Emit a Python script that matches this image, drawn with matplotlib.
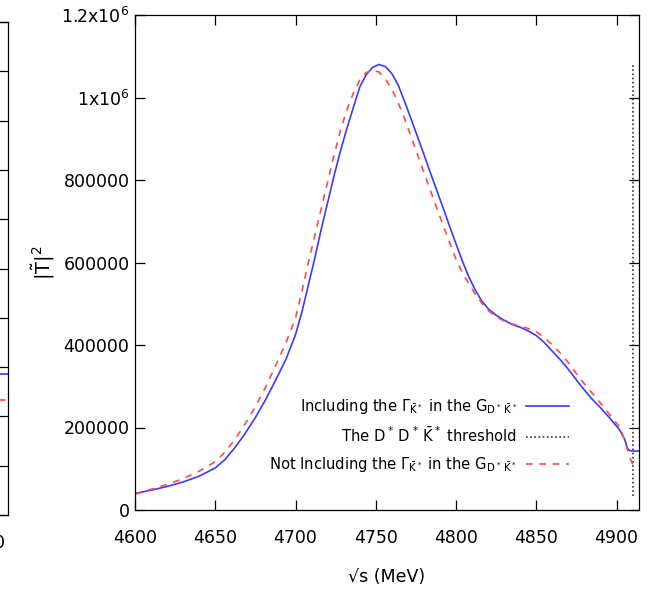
import numpy as np
import matplotlib
matplotlib.use('Agg')
import matplotlib.pyplot as plt

plt.rcParams['font.family'] = ['DejaVu Sans']
plt.rcParams['mathtext.fontset'] = 'custom'
plt.rcParams['mathtext.rm'] = 'DejaVu Sans'
plt.rcParams['mathtext.it'] = 'DejaVu Sans'
plt.rcParams['font.size'] = 12.5

# sqrt(s) in MeV, |T|^2
e_with = [4600, 4610, 4620, 4630, 4640, 4650, 4656, 4662, 4668, 4675, 4681, 4687, 4694,
	4700, 4704, 4708, 4712, 4716, 4720, 4724, 4728, 4732, 4736, 4740, 4744, 4748, 4752,
	4756, 4760, 4764, 4768, 4772, 4776, 4780, 4784, 4788, 4792, 4796, 4800, 4804, 4808,
	4812, 4816, 4820, 4825, 4830, 4835, 4840, 4845, 4850, 4855, 4860, 4865, 4870, 4877,
	4884, 4890, 4896, 4902, 4905, 4907, 4909, 4914]
t_with = [40000, 48000, 57000, 68000, 82000, 102000, 122000, 150000, 182000, 224000,
	265000, 310000, 365000, 425000, 480000, 545000, 610000, 680000, 745000, 810000,
	870000, 925000, 975000, 1025000, 1055000, 1073000, 1080000, 1075000, 1058000,
	1030000, 990000, 948000, 905000, 862000, 818000, 775000, 732000, 688000, 645000,
	603000, 565000, 533000, 507000, 488000, 472000, 460000, 450000, 443000, 434000,
	423000, 406000, 385000, 364000, 341000, 305000, 272000, 248000, 222000, 194000,
	172000, 148000, 143000, 143000]

e_without = [4600, 4610, 4620, 4630, 4640, 4650, 4656, 4662, 4668, 4675, 4681, 4687, 4694,
	4700, 4704, 4708, 4712, 4716, 4720, 4724, 4728, 4732, 4736, 4740, 4744, 4748, 4752,
	4756, 4760, 4764, 4768, 4772, 4776, 4780, 4784, 4788, 4792, 4796, 4800, 4804, 4808,
	4812, 4816, 4820, 4825, 4830, 4835, 4840, 4845, 4850, 4855, 4860, 4865, 4870, 4877,
	4884, 4890, 4896, 4902, 4905, 4908, 4910, 4913]
t_without = [38000, 50000, 62000, 76000, 94000, 117000, 140000, 170000, 205000, 250000,
	295000, 345000, 405000, 465000, 530000, 600000, 665000, 730000, 795000, 860000,
	920000, 970000, 1010000, 1042000, 1060000, 1066000, 1062000, 1045000, 1020000,
	987000, 948000, 905000, 862000, 818000, 775000, 732000, 690000, 648000, 608000,
	575000, 548000, 523000, 502000, 484000, 468000, 458000, 451000, 446000, 440000,
	432000, 418000, 400000, 380000, 357000, 320000, 287000, 259000, 230000, 201000,
	170000, 130000, 112000, 125000]

e_thr = [4910, 4910]
t_thr = [35000, 1080000]

yticks = [0, 200000, 400000, 600000, 800000, 1000000, 1200000]
ylabels = ['0', '200000', '400000', '600000', '800000', r'1x10$^6$', r'1.2x10$^6$']
xticks = [4600, 4650, 4700, 4750, 4800, 4850, 4900]

# the neighbouring panel, only its right edge shows
left_e = [4880, 4914]
left_with = [2.86, 2.86]
left_without = [2.33, 2.33]
left_xticks = [4890]

blue = '#3a3aff'
red = '#ff4a4a'

fig = plt.figure(figsize=(6.56, 5.9), dpi=100)
ax = fig.add_axes([135/656, 1-510/590, 504/656, 495/590])

ax.plot(e_with, t_with, color=blue, lw=1.2,
	label=r'Including the $\Gamma_{\bar{K}^*}$ in the $G_{D^*\,\bar{K}^*}$')
ax.plot(e_thr, t_thr, color='#333333', lw=1.2, ls=(0, (1, 1.5)),
	label=r'The $D^*\,D^*\,\bar{K}^*$ threshold')
ax.plot(e_without, t_without, color=red, lw=1.2, ls=(0, (4, 4)),
	label=r'Not Including the $\Gamma_{\bar{K}^*}$ in the $G_{D^*\,\bar{K}^*}$')

ax.set_xlim(4600, 4914)
ax.set_ylim(0, 1200000)
ax.set_xticks(xticks)
ax.set_yticks(yticks)
ax.set_yticklabels(ylabels)
ax.tick_params(direction='in', top=True, right=True, length=7, width=0.9)
ax.tick_params(axis='x', pad=14)
ax.tick_params(axis='y', pad=4)
for s in ax.spines.values():
	s.set_linewidth(0.9)

ax.set_xlabel('√s (MeV)', labelpad=15)
ax.set_ylabel(r'$|\tilde{T}|^2$', labelpad=3, fontsize=14)

leg = ax.legend(loc='center right', bbox_to_anchor=(0.872, 0.15), frameon=False,
	markerfirst=False, handlelength=2.9, labelspacing=0.68, handletextpad=0.6,
	borderaxespad=0, fontsize=10.6)
for t in leg.get_texts():
	t.set_ha('right')

ax2 = fig.add_axes([8/656 - 0.5, 1-515/590, 0.5, 493/590])
ax2.plot(left_e, left_with, color=blue, lw=1.2)
ax2.plot(left_e, left_without, color=red, lw=1.2, ls=(0, (4, 4)))
ax2.set_xlim(4600, 4914)
ax2.set_ylim(0, 10)
ax2.set_yticks(range(11))
ax2.set_yticklabels([])
ax2.set_xticks(left_xticks)
ax2.tick_params(direction='in', top=True, right=True, length=7, width=0.9)
ax2.tick_params(axis='x', pad=14)
for s in ax2.spines.values():
	s.set_linewidth(0.9)

fig.savefig('out.png', dpi=100)
